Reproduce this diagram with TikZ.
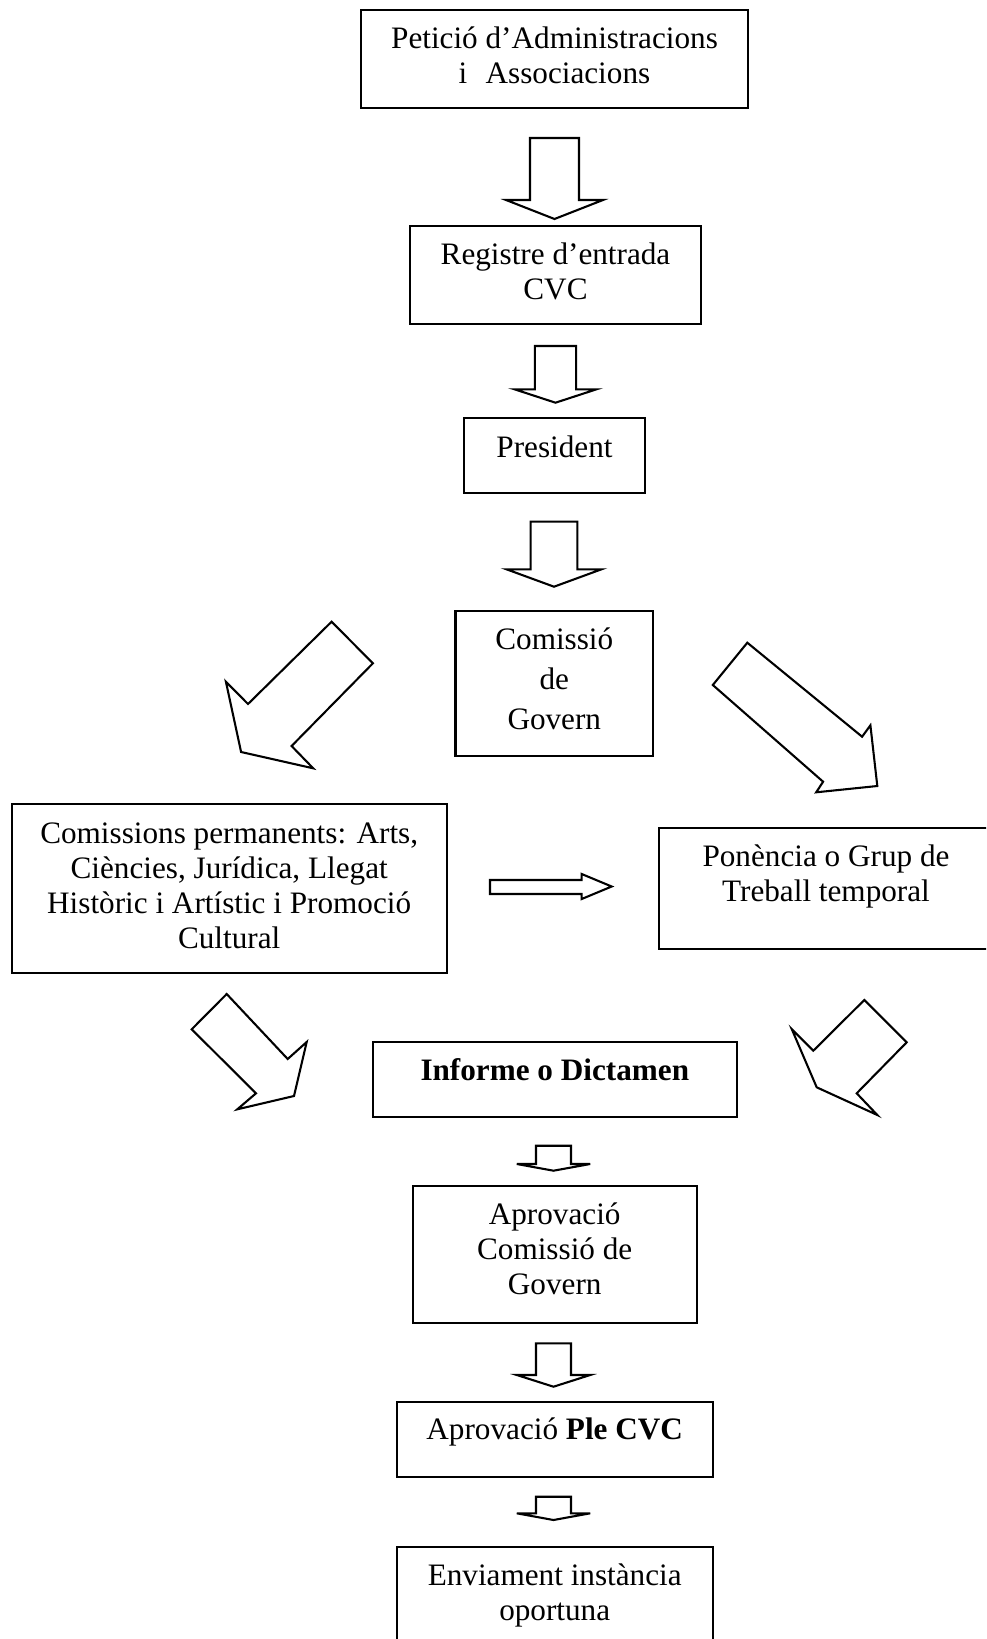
\documentclass[tikz,border=0pt]{standalone}
\usepackage{fontspec}
\setmainfont{Liberation Serif}
\usetikzlibrary{fit}
\tikzset{box/.style={draw,line width=0.8pt,inner sep=0pt},
  txt/.style={anchor=north,align=center,inner sep=0pt,font=\fontsize{12}{13.5}\selectfont},
  blk/.style={draw,line width=0.8pt}}

\begin{document}
\begin{tikzpicture}[x=0.3846pt,y=-0.3846pt]
\useasboundingbox (0,0) rectangle (986,1639);
\clip (0,0) rectangle (986,1639);
% boxes
\node[box,fit={(361,10) (748,108)}] (pet) {};
\node[box,fit={(410,226) (701,324)}] (reg) {};
\node[box,fit={(464,418) (645,493)}] (pres) {};
\node[box,fit={(455.5,611) (653,756)}] (gov) {};
\node[box,fit={(11.7,804) (446.7,973)}] (perm) {};
\node[box,fit={(659,828) (993,949)}] (pon) {};
\node[box,fit={(373,1042) (736.7,1117)}] (inf) {};
\node[box,fit={(412.7,1186) (696.7,1323.3)}] (aprov) {};
\node[box,fit={(396.7,1401.7) (712.7,1476.7)}] (ple) {};
\node[box,fit={(396.7,1546.7) (712.7,1650)}] (env) {};
% texts
\node[txt] (pet-t) at (554.5,23.8) {\strut Petició d’Administracions\\i\hspace{7pt}Associacions};
\node[txt] (reg-t) at (555.5,239.6) {\strut Registre d’entrada\\CVC};
\node[txt] (pres-t) at (554.5,432) {\strut President};
\node[txt,font=\fontsize{12}{15.5}\selectfont] (gov-t) at (554.3,620.5) {\strut Comissió\\de\\Govern};
\node[txt] (perm-t) at (229.2,818) {\strut Comissions permanents: Arts,\\Ciències, Jurídica, Llegat\\Històric i Artístic i Promoció\\Cultural};
\node[txt] (pon-t) at (826,841) {\strut Ponència o Grup de\\Treball temporal};
\node[txt] (inf-t) at (554.8,1055.6) {\strut\textbf{Informe o Dictamen}};
\node[txt] (aprov-t) at (554.7,1199.6) {\strut Aprovació\\Comissió de\\Govern};
\node[txt] (ple-t) at (554.7,1414.6) {\strut Aprovació \textbf{Ple CVC}};
\node[txt] (env-t) at (554.7,1560.3) {\strut Enviament instància\\oportuna};
% block arrows downwards
\foreach \cx/\ya/\yb/\yc/\sw/\hw in {554.5/138/200/219/24.5/48.5,
    555.5/346/389.3/402.7/20.7/41, 554/521.7/569.3/586.7/23.3/47.5,
    553.5/1145.7/1164/1170.7/17.5/36.7, 553.5/1343.3/1375/1386.7/17.5/36.7,
    553.5/1496.7/1513.3/1520/17.5/36.7}
  \draw[blk] (\cx-\sw,\ya) -- (\cx+\sw,\ya) -- (\cx+\sw,\yb) -- (\cx+\hw,\yb)
    -- (\cx,\yc) -- (\cx-\hw,\yb) -- (\cx-\sw,\yb) -- cycle;
% block arrow to the right
\draw[blk] (490,880) -- (581.7,880) -- (581.7,874) -- (611.7,886.5)
  -- (581.7,899) -- (581.7,894) -- (490,894) -- cycle;
% slanted block arrows
\draw[blk] (331.6,621.7) -- (372.9,663.3) -- (291.6,746) -- (313.2,768.3)
  -- (241.1,752) -- (225.9,681.7) -- (248,704) -- cycle;
\draw[blk] (747.3,642.7) -- (862.1,736.7) -- (870.4,725.3) -- (877.3,786)
  -- (816.2,792.3) -- (823.1,781.7) -- (712.8,685) -- cycle;
\draw[blk] (226.7,994) -- (191.7,1029.3) -- (256,1093.3) -- (237.3,1109.3)
  -- (294,1096) -- (306.7,1042) -- (287.7,1059) -- cycle;
\draw[blk] (864.3,1000) -- (906.7,1042.3) -- (856.7,1093.3) -- (877.3,1115)
  -- (816.7,1087.3) -- (791.7,1029) -- (813.3,1050.7) -- cycle;
\end{tikzpicture}
\end{document}
